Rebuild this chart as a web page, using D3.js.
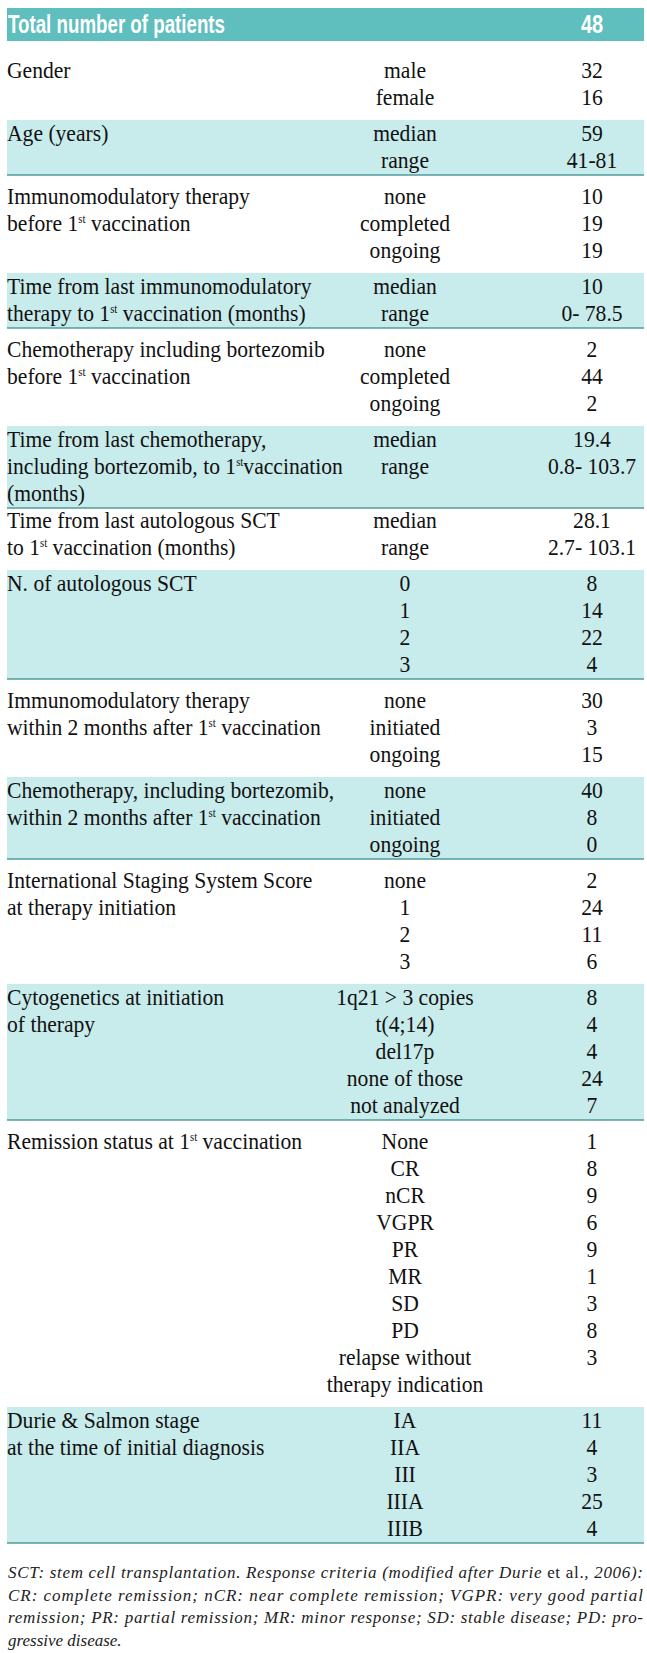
<!DOCTYPE html>
<html>
<head>
<meta charset="utf-8">
<script src="https://cdn.jsdelivr.net/npm/d3@7"></script>
<style>
  body { margin: 0; background: #fff; }
  svg { display: block; }
</style>
</head>
<body>
<svg id="tbl"></svg>
<script>
// table content
const headerLabel = "Total number of patients";
const totalPatients = "48";

const sectionLabels = [
  ["Gender"],
  ["Age (years)"],
  ["Immunomodulatory therapy", "before 1^st vaccination"],
  ["Time from last immunomodulatory", "therapy to 1^st vaccination (months)"],
  ["Chemotherapy including bortezomib", "before 1^st vaccination"],
  ["Time from last chemotherapy,", "including bortezomib, to 1^stvaccination", "(months)"],
  ["Time from last autologous SCT", "to 1^st vaccination (months)"],
  ["N. of autologous SCT"],
  ["Immunomodulatory therapy", "within 2 months after 1^st vaccination"],
  ["Chemotherapy, including bortezomib,", "within 2 months after 1^st vaccination"],
  ["International Staging System Score", "at therapy initiation"],
  ["Cytogenetics at initiation", "of therapy"],
  ["Remission status at 1^st vaccination"],
  ["Durie & Salmon stage", "at the time of initial diagnosis"]
];

const categories = [
  ["male", "female"],
  ["median", "range"],
  ["none", "completed", "ongoing"],
  ["median", "range"],
  ["none", "completed", "ongoing"],
  ["median", "range"],
  ["median", "range"],
  ["0", "1", "2", "3"],
  ["none", "initiated", "ongoing"],
  ["none", "initiated", "ongoing"],
  ["none", "1", "2", "3"],
  ["1q21 > 3 copies", "t(4;14)", "del17p", "none of those", "not analyzed"],
  ["None", "CR", "nCR", "VGPR", "PR", "MR", "SD", "PD", "relapse without|therapy indication"],
  ["IA", "IIA", "III", "IIIA", "IIIB"]
];

const values = [
  ["32", "16"],
  ["59", "41-81"],
  ["10", "19", "19"],
  ["10", "0- 78.5"],
  ["2", "44", "2"],
  ["19.4", "0.8- 103.7"],
  ["28.1", "2.7- 103.1"],
  ["8", "14", "22", "4"],
  ["30", "3", "15"],
  ["40", "8", "0"],
  ["2", "24", "11", "6"],
  ["8", "4", "4", "24", "7"],
  ["1", "8", "9", "6", "9", "1", "3", "8", "3"],
  ["11", "4", "3", "25", "4"]
];

const footnoteLines = [
  ["SCT: stem cell transplantation. Response criteria (modified after Durie ", "et al.", ", 2006):"],
  ["CR: complete remission; nCR: near complete remission; VGPR: very good partial"],
  ["remission; PR: partial remission; MR: minor response; SD: stable disease; PD: pro-"],
  ["gressive disease."]
];

const W = 647, H = 1653;
const left = 7, right = 644;
const serif = '"Liberation Serif", "Times New Roman", serif';
const sans = '"Liberation Sans", Arimo, Arial, sans-serif';
const teal = "#5fbebe", pale = "#c8ebeb", rule = "#4f9d9d";

const svg = d3.select("#tbl").attr("width", W).attr("height", H);

// line slots for each section (1 unit per text line, plus a gap;
// a label that runs longer than its categories eats the gap)
const gapUnits = 1 / 3;
let u = 0;
const sections = sectionLabels.map((lab, i) => {
  const cats = categories[i].map(c => c.split("|"));
  const catLines = d3.sum(cats, c => c.length);
  const n = Math.max(lab.length, catLines);
  const s = {i, lab, cats, vals: values[i], start: u, n};
  u += n + (lab.length > catLines ? 0 : gapUnits);
  return s;
});

const y = d3.scaleLinear().domain([0, 1]).range([70, 97]);
const x = d3.scaleOrdinal().domain(["label", "cat", "val"]).range([left, 405, 592]);

// header band
svg.append("rect")
  .attr("x", left).attr("y", 8).attr("width", right - left).attr("height", 33)
  .attr("fill", teal);
svg.append("text")
  .style("font-family", sans)
  .attr("x", left + 1).attr("y", 33)
  .attr("font-weight", "bold").attr("font-size", 25).attr("fill", "#fff")
  .attr("textLength", 217).attr("lengthAdjust", "spacingAndGlyphs")
  .text(headerLabel);
svg.append("text")
  .style("font-family", sans)
  .attr("transform", `translate(${x("val")},33) scale(0.8,1)`)
  .attr("text-anchor", "middle")
  .attr("font-weight", "bold").attr("font-size", 25).attr("fill", "#fff")
  .text(totalPatients);

// shaded bands for every second section
const shaded = sections.filter(s => s.i % 2 === 1);
svg.selectAll("rect.band").data(shaded).enter().append("rect")
  .attr("class", "band")
  .attr("x", left).attr("width", right - left)
  .attr("y", s => y(s.start) - 13)
  .attr("height", s => y(s.start + s.n - 1) + 15 - (y(s.start) - 13))
  .attr("fill", pale);
svg.selectAll("line.rule").data(shaded).enter().append("line")
  .attr("class", "rule")
  .attr("x1", left).attr("x2", right)
  .attr("y1", s => y(s.start + s.n - 1) + 15)
  .attr("y2", s => y(s.start + s.n - 1) + 15)
  .attr("stroke", rule).attr("stroke-width", 1.5);

// text with ^st superscript, condensed horizontally
function richText(sel, str) {
  const parts = str.split(/\^(st)/);
  parts.forEach((p, k) => {
    if (k % 2 === 1) {
      sel.append("tspan").attr("dy", -8).attr("font-size", 12).text(p);
    } else if (p.length) {
      sel.append("tspan").attr("dy", k > 0 ? 8 : 0).text(p);
    }
  });
}

function putText(g, px, py, str, anchor) {
  const t = g.append("text")
    .style("font-family", serif)
    .attr("transform", `translate(${px},${py}) scale(0.9,1)`)
    .attr("text-anchor", anchor)
    .attr("font-size", 24).attr("fill", "#111");
  richText(t, str);
}

const body = svg.append("g");
sections.forEach(s => {
  s.lab.forEach((line, k) => putText(body, x("label"), y(s.start + k) + 8, line, "start"));
  let k = 0;
  s.cats.forEach((cat, j) => {
    cat.forEach((line, m) => putText(body, x("cat"), y(s.start + k + m) + 8, line, "middle"));
    putText(body, x("val"), y(s.start + k) + 8, s.vals[j], "middle");
    k += cat.length;
  });
});

// footnote, justified except last line
const fy = d3.scaleLinear().domain([0, 1]).range([1578, 1600.5]);
footnoteLines.forEach((parts, i) => {
  const t = svg.append("text")
    .style("font-family", serif)
    .attr("x", left + 1).attr("y", fy(i))
    .attr("font-size", 17)
    .attr("font-style", "italic").attr("fill", "#222");
  if (i < footnoteLines.length - 1) {
    t.attr("textLength", right - left - 2).attr("lengthAdjust", "spacing");
  }
  parts.forEach(p => {
    t.append("tspan").attr("font-style", p === "et al." ? "normal" : "italic").text(p);
  });
});
</script>
</body>
</html>
